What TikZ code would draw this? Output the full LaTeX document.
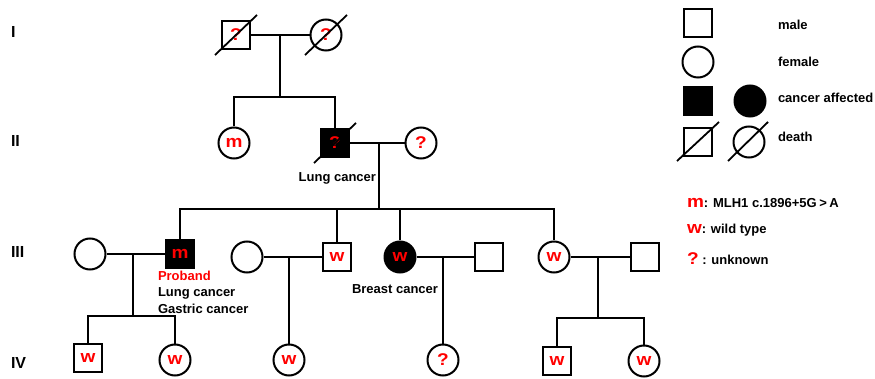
\documentclass[tikz,border=0pt]{standalone}
\usepackage{fontspec}
\setmainfont{Liberation Sans}
\usepackage{graphicx}
\newcommand{\redlet}[1]{{\color{red}\fontsize{17}{17}\selectfont\scalebox{1.12}[1]{#1}}}
\begin{document}
\begin{tikzpicture}[x=1pt,y=-1pt,
 line width=2pt,
 sym/.style={draw, line width=2pt, inner sep=0pt, font=\bfseries},
 male/.style={sym, rectangle, minimum size=28pt},
 female/.style={sym, circle, minimum size=31pt},
 aff/.style={fill=black},
 txt/.style={font=\bfseries\fontsize{13}{13}\selectfont, inner sep=0pt, text height=9pt, text depth=0pt},
 gen/.style={font=\bfseries\fontsize{16}{16}\selectfont, inner sep=0pt, anchor=west},
 dead/.style={line width=1.8pt}]
\useasboundingbox (0,0) rectangle (875,379);

% generation labels
\node[gen] (g1) at (10,32) {I};
\node[gen] (g2) at (10,141) {II};
\node[gen] (g3) at (10,251.5) {III};
\node[gen] (g4) at (10,362.5) {IV};

% individuals
\node[male] (I1) at (236,35) {\redlet{?}};
\node[female] (I2) at (326,35) {\redlet{?}};
\node[female] (II1) at (234,143) {\redlet{m}};
\node[male,aff] (II2) at (335,143) {\redlet{?}};
\node[female] (II3) at (421,143) {\redlet{?}};
\node[male,aff] (P) at (180,254) {\redlet{m}};
\node[female] (S1) at (90,254) {};
\node[male] (Q) at (337,257) {\redlet{w}};
\node[female] (S2) at (247,257) {};
\node[female,aff] (B) at (400,257) {\redlet{w}};
\node[male] (S3) at (489,257) {};
\node[female] (R) at (554,257) {\redlet{w}};
\node[male] (S4) at (645,257) {};
\node[male] (A) at (88,358) {\redlet{w}};
\node[female] (Bc) at (175,360) {\redlet{w}};
\node[female] (C) at (289,360) {\redlet{w}};
\node[female] (D) at (443,360) {\redlet{?}};
\node[male] (E) at (557,361) {\redlet{w}};
\node[female] (F) at (644,361) {\redlet{w}};

% death slashes
\draw[dead] ([shift={(-21,20)}]I1.center) -- ([shift={(21,-20)}]I1.center);
\draw[dead] ([shift={(-21,20)}]I2.center) -- ([shift={(21,-20)}]I2.center);
\draw[dead] ([shift={(-21,20)}]II2.center) -- ([shift={(21,-20)}]II2.center);

% connectors
\coordinate (mI) at (280,35);
\coordinate (sI) at (280,97);
\draw (I1.east) -- (I2.west);
\draw (mI) -- (sI);
\draw (II1.north) |- (sI) -| (II2.north);
\coordinate (mII) at (379,143);
\coordinate (sIII) at (379,209);
\draw (II2.east) -- (II3.west);
\draw (mII) -- (sIII);
\draw (P.north) |- (sIII) -| (R.north);
\draw (Q.north) -- (Q.north |- sIII);
\draw (B.north) -- (B.north |- sIII);
\coordinate (m1) at (133,254);
\coordinate (s1) at (133,316);
\draw (S1.east) -- (P.west);
\draw (m1) -- (s1);
\draw (A.north) |- (s1) -| (Bc.north);
\coordinate (m2) at (289,257);
\draw (S2.east) -- (Q.west);
\draw (m2) -- (C.north);
\coordinate (m3) at (443,257);
\draw (B.east) -- (S3.west);
\draw (m3) -- (D.north);
\coordinate (m4) at (598,257);
\coordinate (s4) at (598,318);
\draw (R.east) -- (S4.west);
\draw (m4) -- (s4);
\draw (E.north) |- (s4) -| (F.north);

% annotations
\node[txt,anchor=east] (t1) at (377,177.5) {Lung cancer};
\node[txt,anchor=west,text=red] (t2) at (157,276) {Proband};
\node[txt,anchor=west] (t3) at (157,292.5) {Lung cancer};
\node[txt,anchor=west] (t4) at (157,308.5) {Gastric cancer};
\node[txt] (t5) at (395,289.5) {Breast cancer};

% legend
\node[male] (LM) at (698,23) {};
\node[female] (LF) at (698,62) {};
\node[male,aff] (LA) at (698,101) {};
\node[female,aff] (LB) at (750,101) {};
\node[male] (LD) at (698,142) {};
\node[female] (LE) at (749,142) {};
\draw[dead] ([shift={(-21,19)}]LD.center) -- ([shift={(21,-20)}]LD.center);
\draw[dead] ([shift={(-21,19)}]LE.center) -- ([shift={(19,-20)}]LE.center);
\node[txt,anchor=west] (k1) at (777,25.5) {male};
\node[txt,anchor=west] (k2) at (777,62.5) {female};
\node[txt,anchor=west] (k3) at (777,98.5) {cancer affected};
\node[txt,anchor=west] (k4) at (777,137.5) {death};
\node[txt,anchor=west] (k5) at (686,203.5) {\redlet{m}: MLH1 c.1896+5G\hspace{2.5pt}>\hspace{2.5pt}A};
\node[txt,anchor=west] (k6) at (686,229.5) {\redlet{w}: wild type};
\node[txt,anchor=west] (k7) at (686,260.5) {\redlet{?} : unknown};
\end{tikzpicture}
\end{document}
